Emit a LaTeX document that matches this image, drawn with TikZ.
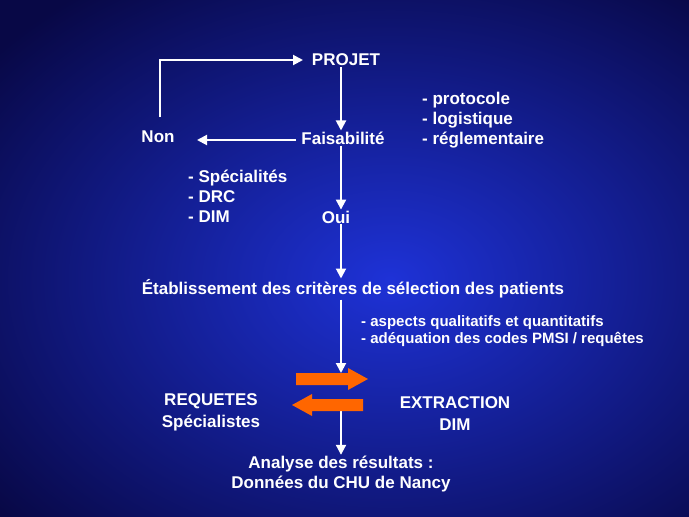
\documentclass[tikz,border=0pt]{standalone}
\usepackage{fontspec}
\setmainfont{Liberation Sans}
\usetikzlibrary{arrows.meta,shapes.arrows}
\definecolor{bgin}{RGB}{30,50,215}
\definecolor{bgout}{RGB}{8,8,70}
\definecolor{orng}{RGB}{255,102,0}
\tikzset{
 txt/.style={text=white,font=\fontsize{17}{20}\selectfont\bfseries,inner sep=1pt},
 lst/.style={txt,anchor=west,align=left},
 sml/.style={text=white,font=\fontsize{15}{17}\selectfont\bfseries,inner sep=1pt,anchor=west,align=left},
 con/.style={draw=white,line width=2pt,-{Triangle[length=10pt,width=10pt]}},
}
\begin{document}
\begin{tikzpicture}[x=1pt,y=-1pt]
\useasboundingbox (0,0) rectangle (689,517);
\shade[inner color=bgin,outer color=bgout] (-120,-80) rectangle (900,640);
\node[txt] (projet) at (346,60) {PROJET};
\node[txt] (fais) at (343,138) {Faisabilité};
\node[txt] (non) at (158,137) {Non};
\node[txt] (oui) at (336,217) {Oui};
\node[txt] (etab) at (353,289) {Établissement des critères de sélection des patients};
\node[lst] (l1) at (421,120) {- protocole\\- logistique\\- réglementaire};
\node[lst] (l2) at (187,196) {- Spécialités\\- DRC\\- DIM};
\node[sml] (l3) at (360,331) {- aspects qualitatifs et quantitatifs\\- adéquation des codes PMSI / requêtes};
\node[txt,align=center] (req) at (211,412) {REQUETES\\[2pt]Spécialistes};
\node[txt,align=center] (ext) at (455,414) {EXTRACTION\\[2pt]DIM};
\node[txt,align=center] (ana) at (341,474) {Analyse des résultats :\\Données du CHU de Nancy};
\coordinate (lp) at (160,117);
\coordinate (lt) at (303,60);
\coordinate (nt) at (197,140);
\coordinate (dt) at (341,373);
\coordinate (db) at (341,408);
\draw[con] (projet.south -| dt) -- (fais.north -| dt);
\draw[con] (fais.west |- nt) ++(-4,0) -- (nt);
\draw[con] (lp) -- (lp |- lt) -- (lt);
\draw[con] (fais.south -| dt) -- (oui.north -| dt);
\draw[con] (oui.south -| dt) -- (etab.north -| dt);
\draw[con] (etab.south -| dt) -- (dt);
\draw[con] (db) -- (ana.north -| db);
\fill[orng] (296,373) -- (348,373) -- (348,368) -- (368,379) -- (348,390) -- (348,385) -- (296,385) -- cycle;
\fill[orng] (363,399) -- (312,399) -- (312,394) -- (292,405) -- (312,416) -- (312,411) -- (363,411) -- cycle;
\end{tikzpicture}
\end{document}
